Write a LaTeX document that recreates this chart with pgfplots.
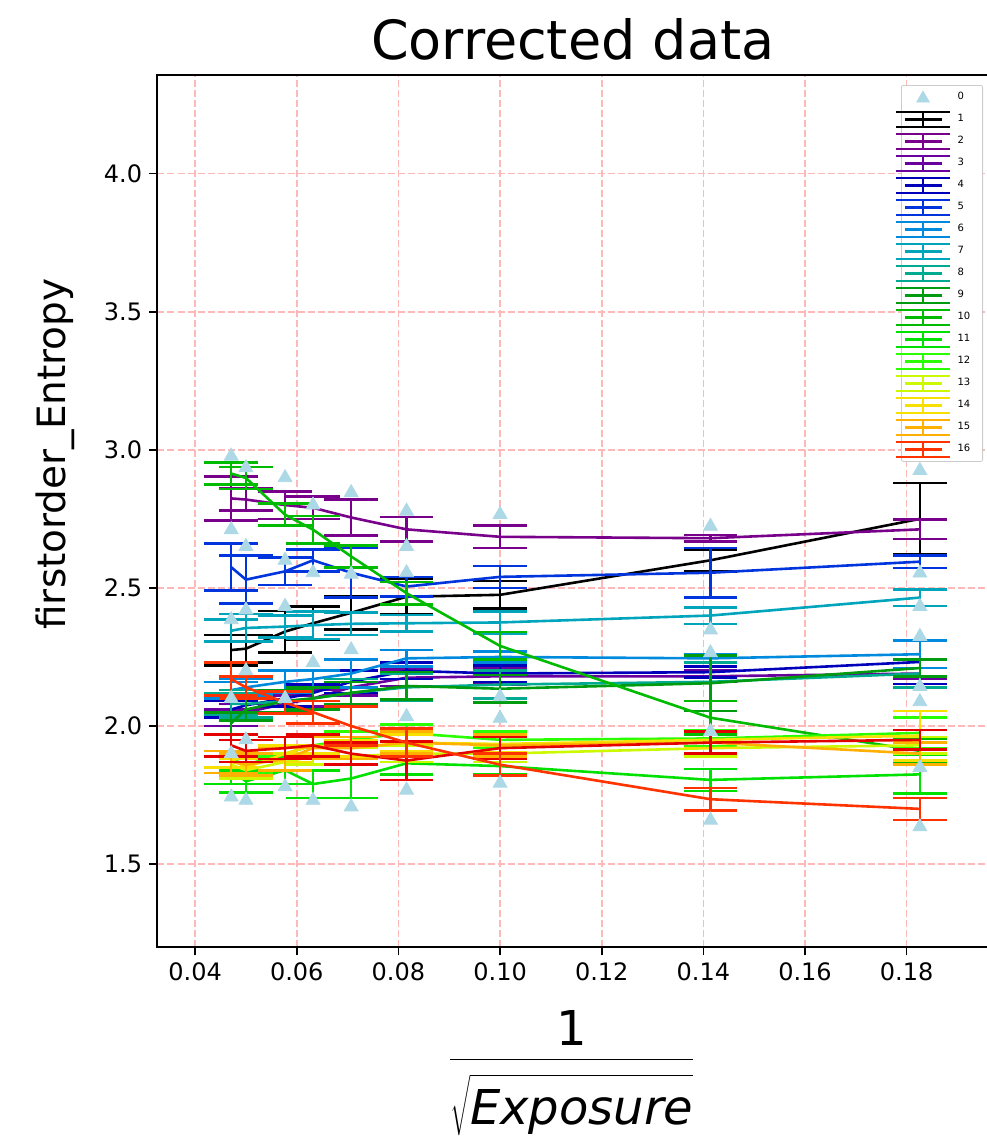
\documentclass[border=0pt]{standalone}
\usepackage{pgfplots}
\pgfplotsset{compat=1.18}
\usepackage{fontspec}
\setmainfont{DejaVu Sans}

\definecolor{c1}{rgb}{0,0,0}
\definecolor{c2}{rgb}{0.474,0,0.541}
\definecolor{c3}{rgb}{0.415,0,0.615}
\definecolor{c4}{rgb}{0,0,0.733}
\definecolor{c5}{rgb}{0,0.207,0.867}
\definecolor{c6}{rgb}{0,0.541,0.867}
\definecolor{c7}{rgb}{0,0.644,0.733}
\definecolor{c8}{rgb}{0,0.667,0.563}
\definecolor{c9}{rgb}{0,0.607,0.059}
\definecolor{c10}{rgb}{0,0.733,0}
\definecolor{c11}{rgb}{0,0.882,0}
\definecolor{c12}{rgb}{0.16,1,0}
\definecolor{c13}{rgb}{0.8,0.978,0}
\definecolor{c14}{rgb}{0.967,0.878,0}
\definecolor{c15}{rgb}{1,0.689,0}
\definecolor{cr}{rgb}{0.9,0,0}
\definecolor{c16}{rgb}{1,0.2,0}
\definecolor{lb}{rgb}{0.678,0.847,0.902}
\definecolor{gridred}{rgb}{1,0.72,0.72}

\pgfplotsset{
  eb/.style={color=#1, mark=none, line width=1.3pt,
    legend image code/.code={
      \draw[color=#1, line width=1.1pt] (0pt,0pt) -- (18.5pt,0pt);
      \draw[color=#1, line width=1.1pt] (9.25pt,-3.7pt) -- (9.25pt,3.7pt);
      \draw[color=#1, line width=1.1pt, overlay] (-4.25pt,-3.7pt) -- (22.75pt,-3.7pt) (-4.25pt,3.7pt) -- (22.75pt,3.7pt);
    },
    error bars/.cd, y dir=both, y explicit, error mark=-,
    error bar style={line width=1.3pt, color=#1},
    error mark options={rotate=90, mark size=13.4pt, line width=1.3pt, color=#1},
    /pgfplots/.cd},
  tri/.style={only marks, mark=triangle*, mark size=4pt, color=lb, mark options={solid, draw=lb, fill=lb},
    legend image code/.code={
      \path[draw=none] (0pt,-4.25pt) -- (18.5pt,4.25pt);
      \draw[lb, fill=lb, mark=triangle*, mark size=3.6pt] plot coordinates {(9.25pt,-0.5pt)};}},
}

\begin{document}
\begin{tikzpicture}
\begin{axis}[
  at={(0,0)}, anchor=south west,
  scale only axis, width=415.25pt, height=436pt,
  xmin=0.0326, xmax=0.1960, ymin=1.2, ymax=4.357,
  xtick={0.04,0.06,0.08,0.10,0.12,0.14,0.16,0.18},
  ytick={1.5,2.0,2.5,3.0,3.5,4.0},
  scaled x ticks=false, scaled y ticks=false,
  tick align=outside, major tick length=4.2pt,
  xtick pos=bottom, ytick pos=left,
  tick style={black, line width=0.8pt},
  /pgf/number format/assume math mode=true,
  x tick label style={/pgf/number format/.cd, fixed, fixed zerofill, precision=2, /tikz/.cd},
  y tick label style={/pgf/number format/.cd, fixed, fixed zerofill, precision=1, /tikz/.cd},
  tick label style={font=\fontsize{12}{14}\selectfont},
  grid=major,
  major grid style={gridred, line width=0.8pt, dash pattern=on 3.5pt off 1.5pt},
  axis line style={line width=1pt, black},
  title={Corrected data},
  title style={font=\fontsize{27}{32}\selectfont, at={(0.5,1)}, anchor=base, yshift=1.5pt},
  ylabel={firstorder\_Entropy},
  ylabel style={font=\fontsize{19.5}{23}\selectfont, at={(axis description cs:-0.1102,0.5654)}, anchor=base},
  xlabel={$\displaystyle\frac{\smash{\raisebox{-3.5pt}{1}}}{\rule{0pt}{31pt}\sqrt{\rule{0pt}{23pt}\mbox{\itshape Exposure}}}$},
  xlabel style={font=\fontsize{24}{28}\selectfont, at={(axis description cs:0.4988,0)}, anchor=base, yshift=-62.5pt},
  legend style={at={(0.994,0.9885)}, anchor=north east, draw=black!20, rounded corners=1pt,
    fill=white, inner xsep=1pt, inner ysep=1.75pt, font=\fontsize{5}{6}\selectfont,
    row sep=2.5pt, column sep=0pt, nodes={inner sep=1.5pt, text width=10pt},
    /tikz/every odd column/.append style={column sep=6pt}},
  legend cell align=left,
]
\addplot[tri] coordinates {
(0.0471,2.977) (0.0471,2.711) (0.0471,2.385) (0.0471,1.743) (0.0471,2.10) (0.0471,1.90)
(0.0500,2.935) (0.0500,2.650) (0.0500,2.420) (0.0500,1.731) (0.0500,2.20) (0.0500,1.95)
(0.0577,2.899) (0.0577,2.433) (0.0577,1.780) (0.0577,2.600) (0.0577,2.10)
(0.0632,2.555) (0.0632,2.229) (0.0632,1.731) (0.0632,2.800)
(0.0707,2.845) (0.0707,2.276) (0.0707,1.707) (0.0707,2.550)
(0.0816,2.778) (0.0816,2.650) (0.0816,2.555) (0.0816,2.034) (0.0816,1.768)
(0.1000,2.766) (0.1000,2.028) (0.1000,1.793) (0.1000,2.106)
(0.1414,2.723) (0.1414,2.348) (0.1414,2.265) (0.1414,1.659) (0.1414,1.980)
(0.1826,2.925) (0.1826,2.554) (0.1826,2.433) (0.1826,2.324) (0.1826,2.143) (0.1826,2.088) (0.1826,1.635) (0.1826,1.850)
};
\addlegendentry{0}
\addplot[eb=c1] coordinates {(0.0471,2.275) +- (0,0.055) (0.0500,2.280) +- (0,0.050) (0.0577,2.342) +- (0,0.075) (0.0632,2.372) +- (0,0.060) (0.0707,2.410) +- (0,0.060) (0.0816,2.468) +- (0,0.065) (0.1000,2.475) +- (0,0.050) (0.1414,2.600) +- (0,0.040) (0.1826,2.750) +- (0,0.130)};
\addlegendentry{1}
\addplot[eb=c2] coordinates {(0.0471,2.824) +- (0,0.080) (0.0500,2.820) +- (0,0.040) (0.0577,2.800) +- (0,0.050) (0.0632,2.790) +- (0,0.040) (0.0707,2.755) +- (0,0.065) (0.0816,2.712) +- (0,0.045) (0.1000,2.685) +- (0,0.040) (0.1414,2.680) +- (0,0.012) (0.1826,2.712) +- (0,0.035)};
\addlegendentry{2}
\addplot[eb=c3] coordinates {(0.0471,2.030) +- (0,0.030) (0.0500,2.050) +- (0,0.030) (0.0577,2.080) +- (0,0.030) (0.0632,2.100) +- (0,0.030) (0.0707,2.140) +- (0,0.030) (0.0816,2.175) +- (0,0.030) (0.1000,2.180) +- (0,0.030) (0.1414,2.180) +- (0,0.020) (0.1826,2.190) +- (0,0.020)};
\addlegendentry{3}
\addplot[eb=c4] coordinates {(0.0471,2.060) +- (0,0.030) (0.0500,2.075) +- (0,0.030) (0.0577,2.100) +- (0,0.030) (0.0632,2.120) +- (0,0.030) (0.0707,2.160) +- (0,0.040) (0.0816,2.200) +- (0,0.030) (0.1000,2.190) +- (0,0.030) (0.1414,2.195) +- (0,0.020) (0.1826,2.232) +- (0,0.080)};
\addlegendentry{4}
\addplot[eb=c5] coordinates {(0.0471,2.575) +- (0,0.085) (0.0500,2.530) +- (0,0.087) (0.0577,2.560) +- (0,0.050) (0.0632,2.600) +- (0,0.040) (0.0707,2.555) +- (0,0.090) (0.0816,2.505) +- (0,0.035) (0.1000,2.540) +- (0,0.040) (0.1414,2.555) +- (0,0.090) (0.1826,2.595) +- (0,0.023)};
\addlegendentry{5}
\addplot[eb=c6] coordinates {(0.0471,2.130) +- (0,0.030) (0.0500,2.140) +- (0,0.030) (0.0577,2.160) +- (0,0.040) (0.0632,2.170) +- (0,0.030) (0.0707,2.190) +- (0,0.050) (0.0816,2.245) +- (0,0.030) (0.1000,2.250) +- (0,0.020) (0.1414,2.245) +- (0,0.015) (0.1826,2.260) +- (0,0.050)};
\addlegendentry{6}
\addplot[eb=c7] coordinates {(0.0471,2.345) +- (0,0.040) (0.0500,2.355) +- (0,0.050) (0.0577,2.360) +- (0,0.040) (0.0632,2.365) +- (0,0.050) (0.0707,2.370) +- (0,0.040) (0.0816,2.372) +- (0,0.030) (0.1000,2.375) +- (0,0.040) (0.1414,2.400) +- (0,0.030) (0.1826,2.465) +- (0,0.030)};
\addlegendentry{7}
\addplot[eb=c8] coordinates {(0.0471,2.080) +- (0,0.040) (0.0500,2.080) +- (0,0.050) (0.0577,2.090) +- (0,0.040) (0.0632,2.100) +- (0,0.040) (0.0707,2.120) +- (0,0.050) (0.0816,2.140) +- (0,0.050) (0.1000,2.150) +- (0,0.050) (0.1414,2.160) +- (0,0.070) (0.1826,2.190) +- (0,0.050)};
\addlegendentry{8}
\addplot[eb=c9] coordinates {(0.0471,2.010) +- (0,0.040) (0.0500,2.060) +- (0,0.040) (0.0577,2.090) +- (0,0.040) (0.0632,2.100) +- (0,0.040) (0.0707,2.120) +- (0,0.040) (0.0816,2.145) +- (0,0.050) (0.1000,2.135) +- (0,0.050) (0.1414,2.155) +- (0,0.100) (0.1826,2.210) +- (0,0.030)};
\addlegendentry{9}
\addplot[eb=c10] coordinates {(0.0471,2.914) +- (0,0.040) (0.0500,2.898) +- (0,0.040) (0.0577,2.765) +- (0,0.040) (0.0632,2.711) +- (0,0.050) (0.0707,2.614) +- (0,0.040) (0.0816,2.481) +- (0,0.040) (0.1000,2.290) +- (0,0.050) (0.1414,2.030) +- (0,0.060) (0.1826,1.910) +- (0,0.045)};
\addlegendentry{10}
\addplot[eb=c11] coordinates {(0.0471,1.840) +- (0,0.050) (0.0500,1.800) +- (0,0.040) (0.0577,1.840) +- (0,0.050) (0.0632,1.790) +- (0,0.050) (0.0707,1.810) +- (0,0.070) (0.0816,1.865) +- (0,0.040) (0.1000,1.855) +- (0,0.030) (0.1414,1.805) +- (0,0.040) (0.1826,1.825) +- (0,0.070)};
\addlegendentry{11}
\addplot[eb=c12] coordinates {(0.0471,1.880) +- (0,0.030) (0.0500,1.860) +- (0,0.030) (0.0577,1.900) +- (0,0.030) (0.0632,1.930) +- (0,0.030) (0.0707,1.950) +- (0,0.030) (0.0816,1.975) +- (0,0.030) (0.1000,1.950) +- (0,0.030) (0.1414,1.955) +- (0,0.030) (0.1826,1.975) +- (0,0.055)};
\addlegendentry{12}
\addplot[eb=c13] coordinates {(0.0471,1.860) +- (0,0.030) (0.0500,1.840) +- (0,0.030) (0.0577,1.870) +- (0,0.030) (0.0632,1.890) +- (0,0.030) (0.0707,1.890) +- (0,0.030) (0.0816,1.900) +- (0,0.030) (0.1000,1.900) +- (0,0.030) (0.1414,1.920) +- (0,0.030) (0.1826,1.930) +- (0,0.030)};
\addlegendentry{13}
\addplot[eb=c14] coordinates {(0.0471,1.880) +- (0,0.030) (0.0500,1.850) +- (0,0.030) (0.0577,1.900) +- (0,0.030) (0.0632,1.930) +- (0,0.030) (0.0707,1.920) +- (0,0.030) (0.0816,1.940) +- (0,0.030) (0.1000,1.935) +- (0,0.030) (0.1414,1.950) +- (0,0.030) (0.1826,1.965) +- (0,0.090)};
\addlegendentry{14}
\addplot[eb=c15] coordinates {(0.0471,1.870) +- (0,0.040) (0.0500,1.860) +- (0,0.040) (0.0577,1.880) +- (0,0.040) (0.0632,1.920) +- (0,0.040) (0.0707,1.920) +- (0,0.040) (0.0816,1.940) +- (0,0.040) (0.1000,1.930) +- (0,0.040) (0.1414,1.940) +- (0,0.040) (0.1826,1.900) +- (0,0.040)};
\addlegendentry{15}
\addplot[forget plot, eb=cr] coordinates {(0.0471,1.930) +- (0,0.040) (0.0500,1.910) +- (0,0.040) (0.0577,1.920) +- (0,0.040) (0.0632,1.930) +- (0,0.040) (0.0707,1.900) +- (0,0.040) (0.0816,1.875) +- (0,0.070) (0.1000,1.920) +- (0,0.040) (0.1414,1.940) +- (0,0.040) (0.1826,1.950) +- (0,0.036)};
\addplot[eb=c16] coordinates {(0.0471,2.170) +- (0,0.060) (0.0500,2.140) +- (0,0.040) (0.0577,2.085) +- (0,0.040) (0.0632,2.050) +- (0,0.040) (0.0707,2.000) +- (0,0.070) (0.0816,1.940) +- (0,0.050) (0.1000,1.860) +- (0,0.040) (0.1414,1.735) +- (0,0.040) (0.1826,1.700) +- (0,0.040)};
\addlegendentry{16}
\end{axis}
\pgfresetboundingbox
\path[use as bounding box] (-78.75pt,-95.5pt) rectangle (414.25pt,473.5pt);
\end{tikzpicture}
\end{document}
